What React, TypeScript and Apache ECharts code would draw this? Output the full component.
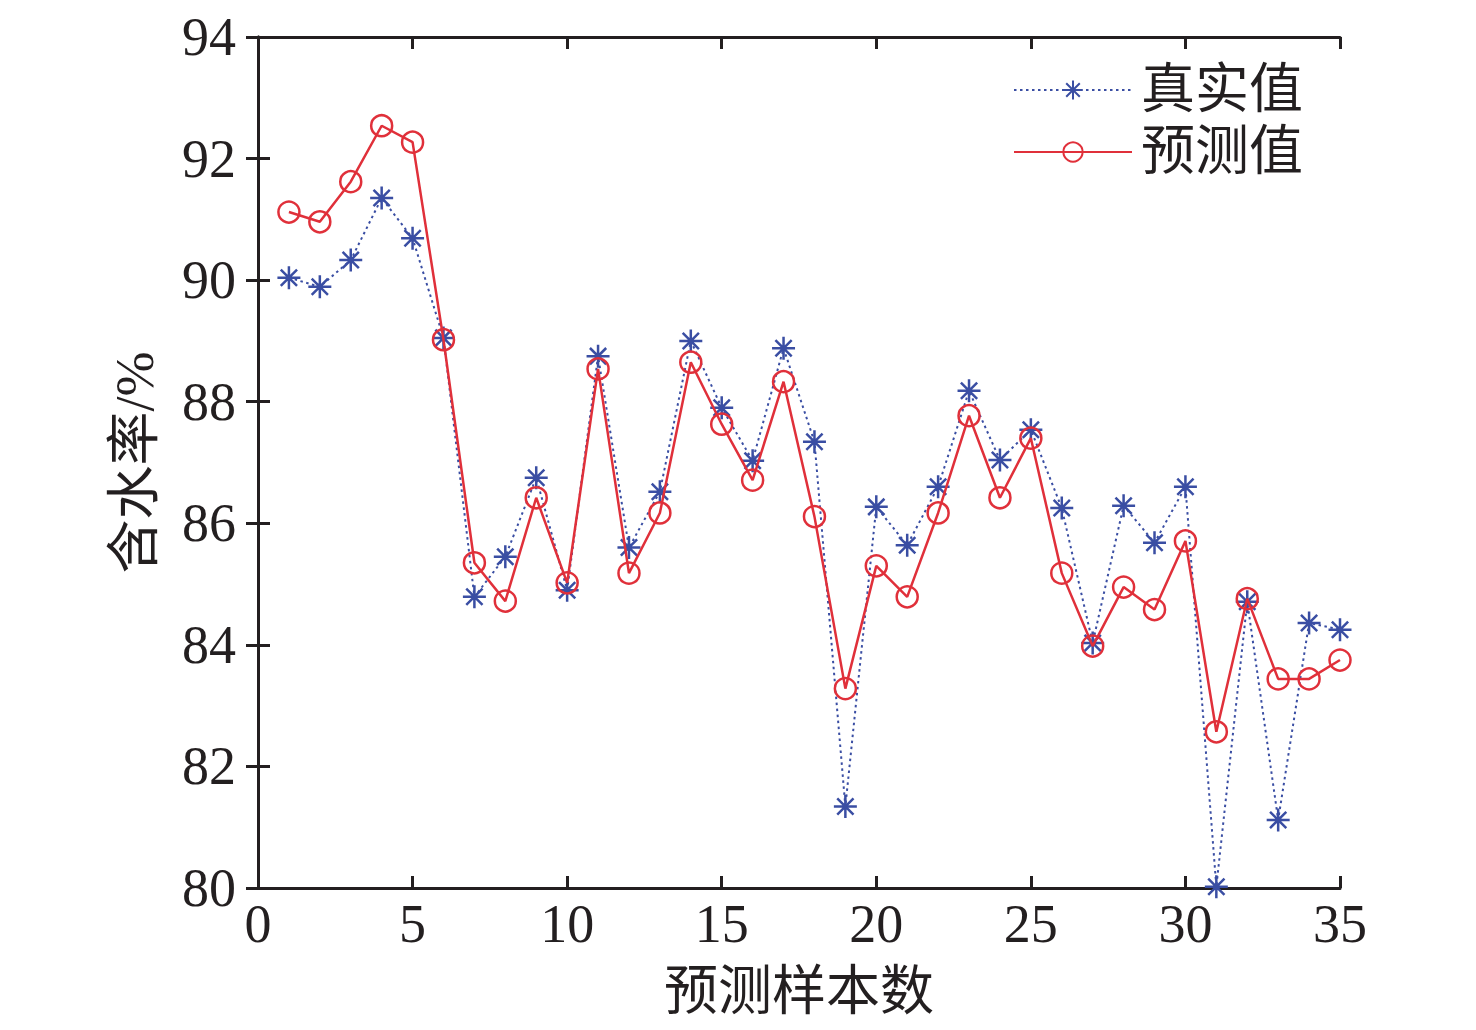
import React, { useEffect, useRef } from "react";
import * as echarts from "echarts";

const samples = Array.from({ length: 35 }, (_, i) => i + 1);
const realValues = [
  90.04, 89.89, 90.33, 91.35, 90.69, 89.05, 84.79, 85.45, 86.75, 84.9,
  88.75, 85.6, 86.52, 89.0, 87.9, 87.03, 88.88, 87.34, 81.34, 86.27,
  85.64, 86.6, 88.18, 87.04, 87.54, 86.25, 84.03, 86.29, 85.68, 86.6,
  80.02, 84.71, 81.12, 84.36, 84.25,
];
const predValues = [
  91.12, 90.96, 91.62, 92.54, 92.27, 89.02, 85.35, 84.72, 86.42, 85.02,
  88.54, 85.18, 86.17, 88.65, 87.63, 86.71, 88.33, 86.11, 83.28, 85.3,
  84.79, 86.17, 87.77, 86.42, 87.4, 85.18, 83.98, 84.95, 84.58, 85.71,
  82.57, 84.76, 83.44, 83.44, 83.75,
];

const FONT = "'Liberation Serif', 'Noto Sans CJK SC', serif";
const AX = "#231f20";
const BLUE = "#3a4ea3";
const RED = "#e0303a";
const STAR = "path://M0,-10L0,10M-10,0L10,0M-7.07,-7.07L7.07,7.07M-7.07,7.07L7.07,-7.07";

export default function App() {
  const ref = useRef<HTMLDivElement>(null);
  useEffect(() => {
    const chart = echarts.init(ref.current!, null, { renderer: "svg" });
    const axisCommon = {
      axisLine: { show: true, lineStyle: { color: AX, width: 3 } },
      axisTick: { show: true, inside: true, length: 12, lineStyle: { color: AX, width: 3 } },
      splitLine: { show: false },
    };
    chart.setOption({
      animation: false,
      backgroundColor: "#fff",
      grid: {
        left: 258,
        right: 136,
        top: 37,
        bottom: 142,
        containLabel: false,
        outerBoundsMode: "none",
      },
      legend: {
        orient: "vertical",
        right: 168,
        top: 58,
        itemWidth: 118,
        itemHeight: 24,
        itemGap: 8,
        textStyle: { fontFamily: FONT, fontSize: 54, color: "#231f20", padding: [0, 0, 0, 4] },
        data: ["真实值", "预测值"],
      },
      xAxis: [
        {
          type: "value",
          min: 0,
          max: 35,
          interval: 5,
          name: "预测样本数",
          nameLocation: "middle",
          nameGap: 77,
          nameTextStyle: { fontFamily: FONT, fontSize: 54, color: "#231f20" },
          axisLabel: { fontFamily: FONT, fontSize: 54, color: "#231f20", margin: 9 },
          ...axisCommon,
        },
        {
          type: "value",
          position: "top",
          min: 0,
          max: 35,
          interval: 5,
          axisLabel: { show: false },
          ...axisCommon,
        },
      ],
      yAxis: [
        {
          type: "value",
          min: 80,
          max: 94,
          interval: 2,
          name: "含水率/%",
          nameLocation: "middle",
          nameGap: 96,
          nameTextStyle: { fontFamily: FONT, fontSize: 54, color: "#231f20" },
          axisLabel: { fontFamily: FONT, fontSize: 54, color: "#231f20", margin: 22 },
          ...axisCommon,
        },
        {
          type: "value",
          position: "right",
          min: 80,
          max: 94,
          interval: 2,
          axisLabel: { show: false },
          ...axisCommon,
        },
      ],
      series: [
        {
          name: "真实值",
          type: "line",
          data: samples.map((s, i) => [s, realValues[i]]),
          symbol: STAR,
          symbolSize: 23,
          clip: true,
          lineStyle: { color: BLUE, width: 2, type: [2.5, 3.5] },
          itemStyle: { color: BLUE, borderColor: BLUE, borderWidth: 2.5 },
          z: 2,
        },
        {
          name: "预测值",
          type: "line",
          data: samples.map((s, i) => [s, predValues[i]]),
          symbol: "circle",
          symbolSize: 21,
          clip: true,
          lineStyle: { color: RED, width: 2.5 },
          itemStyle: { color: "rgba(0,0,0,0)", borderColor: RED, borderWidth: 2.5 },
          z: 3,
        },
      ],
    });
    return () => chart.dispose();
  }, []);
  return (
    <div
      ref={ref}
      style={{ position: "absolute", left: 0, top: 0, width: 1476, height: 1030 }}
    />
  );
}
